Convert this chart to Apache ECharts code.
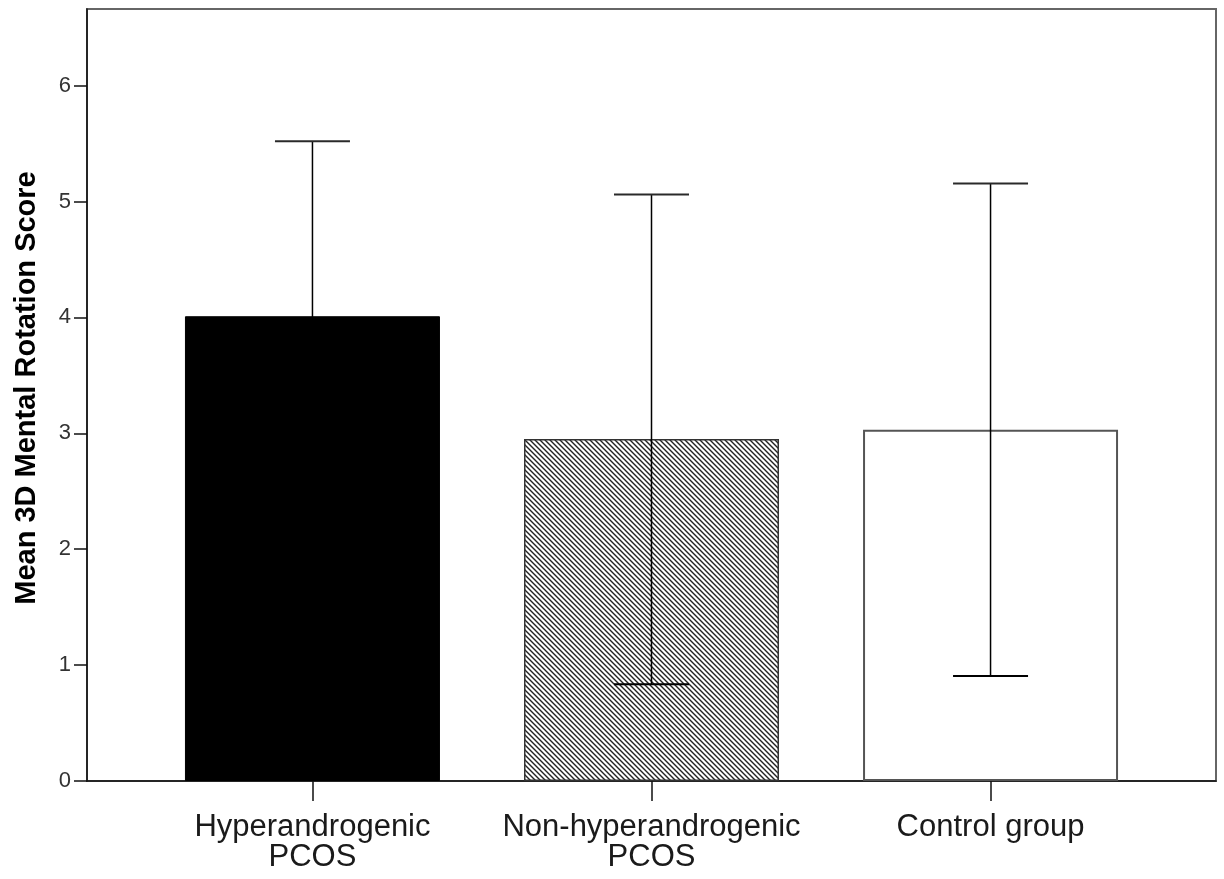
<!DOCTYPE html>
<html>
<head>
<meta charset="utf-8">
<script src="https://cdn.jsdelivr.net/npm/echarts@6/dist/echarts.min.js"></script>
<style>
html,body{margin:0;padding:0;background:#fff;}
#chart{width:1224px;height:879px;}
</style>
</head>
<body>
<div id="chart"></div>
<script>
// ---- data ----
const categories = ['Hyperandrogenic\nPCOS', 'Non-hyperandrogenic\nPCOS', 'Control group'];
const positions = [1, 2, 3];
const means = [4.01, 2.95, 3.03];
const errLow = [2.50, 0.835, 0.905];
const errHigh = [5.52, 5.06, 5.155];
const yTicks = [0, 1, 2, 3, 4, 5, 6];
const yTitle = 'Mean 3D Mental Rotation Score';

// hatch pattern
function makeHatch() {
  const s = 5;
  const c = document.createElement('canvas');
  c.width = s; c.height = s;
  const g = c.getContext('2d');
  g.fillStyle = '#fff';
  g.fillRect(0, 0, s, s);
  g.strokeStyle = '#222';
  g.lineWidth = 1.4;
  g.beginPath();
  g.moveTo(-1, -1); g.lineTo(s + 1, s + 1);
  g.moveTo(-1, s - 1); g.lineTo(1, s + 1);
  g.moveTo(s - 1, -1); g.lineTo(s + 1, 1);
  g.stroke();
  return c;
}

const barStyles = [
  { color: '#000', borderColor: '#000', borderWidth: 1 },
  { color: { image: makeHatch(), repeat: 'repeat' }, borderColor: '#333', borderWidth: 1.5 },
  { color: '#fff', borderColor: '#555', borderWidth: 2 }
];

const barData = positions.map((p, i) => ({ value: [p, means[i]], itemStyle: barStyles[i] }));
const errData = positions.map((p, i) => [p, errLow[i], errHigh[i]]);

const chart = echarts.init(document.getElementById('chart'), null, { renderer: 'canvas' });
const fontFam = '"Liberation Sans", Arial, sans-serif';

chart.setOption({
  backgroundColor: '#fff',
  animation: false,
  grid: {
    left: 87, top: 9, right: 8, bottom: 98,
    show: true, borderColor: '#666', borderWidth: 2, backgroundColor: 'transparent'
  },
  xAxis: {
    type: 'value',
    min: 0.335, max: 3.665,
    splitLine: { show: false },
    axisLine: { show: true, lineStyle: { color: '#111', width: 1.5 } },
    axisTick: { show: true, customValues: positions, length: 20, lineStyle: { color: '#111', width: 1.5 } },
    axisLabel: {
      customValues: positions,
      margin: 31,
      fontFamily: fontFam, fontSize: 31, lineHeight: 30, color: '#1a1a1a',
      formatter: v => { const i = positions.indexOf(Math.round(v)); return i >= 0 ? categories[i] : ''; }
    }
  },
  yAxis: {
    type: 'value',
    min: 0, max: 6.661,
    name: yTitle,
    nameLocation: 'middle',
    nameGap: 46,
    nameTextStyle: { fontFamily: fontFam, fontSize: 29, fontWeight: 'bold', color: '#000', padding: [0, 0, 0, 14] },
    splitLine: { show: false },
    axisLine: { show: true, lineStyle: { color: '#111', width: 1.5 } },
    axisTick: { show: true, customValues: yTicks, length: 13, lineStyle: { color: '#111', width: 1.5 } },
    axisLabel: { customValues: yTicks, margin: 16, fontFamily: fontFam, fontSize: 22, color: '#333' }
  },
  series: [
    {
      type: 'bar',
      barWidth: 255,
      data: barData,
      z: 2
    },
    {
      type: 'custom',
      z: 5,
      data: errData,
      renderItem: function (params, api) {
        const x = api.value(0);
        const lo = api.coord([x, api.value(1)]);
        const hi = api.coord([x, api.value(2)]);
        const half = 37.5;
        return {
          type: 'group',
          children: [
            { type: 'line', shape: { x1: lo[0], y1: lo[1], x2: hi[0], y2: hi[1] }, style: { stroke: '#000', lineWidth: 1.5 } },
            { type: 'line', shape: { x1: hi[0] - half, y1: hi[1], x2: hi[0] + half, y2: hi[1] }, style: { stroke: '#2a2a2a', lineWidth: 2 } },
            { type: 'line', shape: { x1: lo[0] - half, y1: lo[1], x2: lo[0] + half, y2: lo[1] }, style: { stroke: '#000', lineWidth: 2 } }
          ]
        };
      }
    }
  ]
});
</script>
</body>
</html>
